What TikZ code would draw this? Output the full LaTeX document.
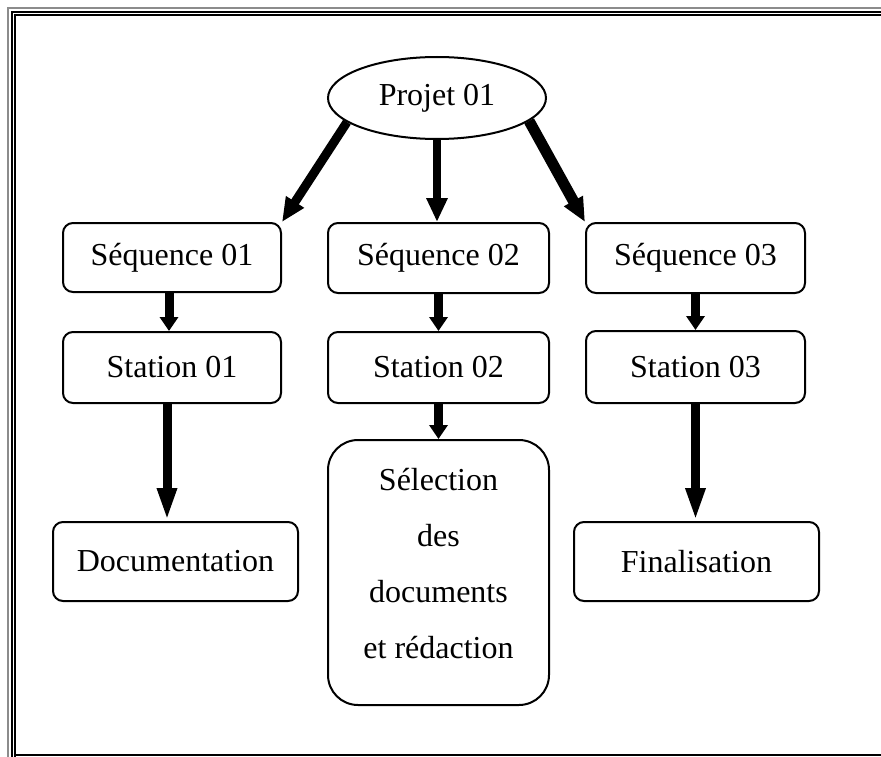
\documentclass[tikz,border=0pt]{standalone}
\usepackage{fontspec}
\setmainfont{Liberation Serif}
\usetikzlibrary{arrows.meta,shapes.geometric}
\begin{document}
\begin{tikzpicture}[x=1pt,y=-1pt,
  box/.style={draw,line width=2pt,rounded corners=10pt,minimum width=219pt,minimum height=70pt,inner sep=0pt,font=\fontsize{32}{56}\selectfont,align=center},
  bigarr/.style={line width=9pt,-{Triangle[width=20pt,length=24pt]}},
  smallarr/.style={line width=9pt,-{Triangle[width=18pt,length=14pt]}},
  longarr/.style={line width=9pt,-{Triangle[width=18pt,length=33pt]}},
]
\useasboundingbox (0,0) rectangle (881,757);
% page border
\draw[black!45,line width=1.5pt] (8,757) -- (8,8) -- (881,8);
\draw[line width=2pt] (12,757) -- (12,12) -- (881,12);
\draw[line width=2pt] (15,757) -- (15,15) -- (881,15);
\draw[line width=1.5pt] (15,755) -- (881,755);
% nodes
\node[draw,ellipse,line width=2pt,minimum width=218pt,minimum height=82pt,inner sep=0pt,font=\fontsize{32}{37}\selectfont] (proj) at (437,98) {Projet 01};
\node[box,minimum width=218pt,minimum height=69pt] (s1) at (172,257.5) {Séquence 01};
\node[box,minimum width=221pt] (s2) at (438.5,258) {Séquence 02};
\node[box] (s3) at (695.5,258) {Séquence 03};
\node[box,minimum width=218pt,minimum height=71pt] (t1) at (172,367.5) {Station 01};
\node[box,minimum width=221pt,minimum height=71pt] (t2) at (438.5,367.5) {Station 02};
\node[box,minimum height=72pt] (t3) at (695.5,367) {Station 03};
\node[box,minimum width=245pt,minimum height=79pt] (doc) at (175.5,561.5) {Documentation};
\node[box,minimum width=245pt,minimum height=79pt] (fin) at (696.5,561.5) {Finalisation};
\node[box,rounded corners=30pt,minimum width=221pt,minimum height=265pt] (sel) at (438.5,572.5) {Sélection\\des\\documents\\et rédaction\\[-38pt]};
% connectors
\draw[bigarr] (proj.195) -- (s1.north east);
\draw[bigarr,line width=8pt] (proj.south) -- (proj.south |- s2.north);
\draw[bigarr,line width=11pt] (proj.-14) -- (s3.north west);
\draw[smallarr] ([xshift=-3pt]s1.south) -- ([xshift=-3pt]t1.north);
\draw[smallarr] (s2.south) -- (t2.north);
\draw[smallarr] (s3.south) -- (t3.north);
\draw[longarr] ([xshift=-5pt]t1.south) -- ([xshift=-5pt]t1.south |- doc.north);
\draw[smallarr] (t2.south) -- (sel.north);
\draw[longarr] (t3.south) -- (fin.north -| t3.south);
\end{tikzpicture}
\end{document}
